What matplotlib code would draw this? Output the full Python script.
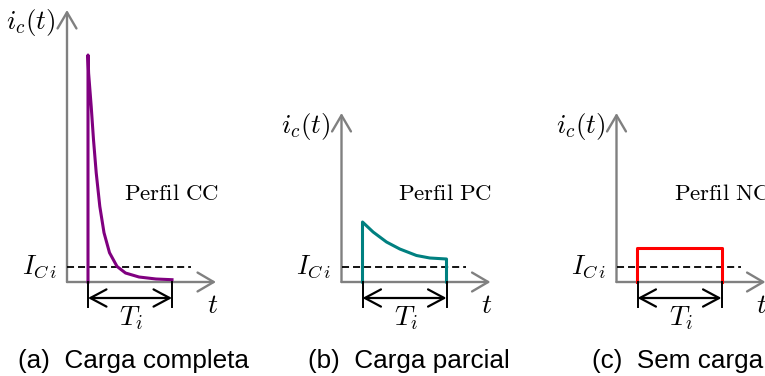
import matplotlib.pyplot as plt
from matplotlib.patches import FancyArrowPatch

plt.rcParams["mathtext.fontset"] = "cm"

# panel data, local units (t to the right, i upwards, origin at the axes corner)
cc_t = [21, 21, 21.6, 24.2, 26.5, 29.2, 32.8, 37, 42.5, 50, 58.5, 72, 89, 105]
cc_i = [0, 227, 209, 175.6, 142.3, 109.3, 75.6, 49.3, 29.3, 15.6, 9, 5, 3, 2.3]

pc_t = [21, 21, 31.6, 45, 58.3, 75, 88.3, 105, 105]
pc_i = [0, 60, 50, 40, 33, 26.5, 24, 23, 0]

nc_t = [20, 20, 105, 105]
nc_i = [0, 34, 34, 0]

i_ref = 15.5           # I_Ci level
t_on, t_off = 21, 105  # T_i span

profiles = ["CC", "PC", "NC"]
captions = ["(a)  Carga completa", "(b)  Carga parcial", "(c)  Sem carga"]
colors = ["#800080", "#008080", "#ff0000"]
curves = [(cc_t, cc_i), (pc_t, pc_i), (nc_t, nc_i)]

# layout
origins = [67, 341.5, 616.5]      # pixel x of each y-axis
axis_top = [272, 169, 169]
caption_left = [-49, -33.5, -24.5]
W, H = 765, 376

fig = plt.figure(figsize=(W / 100, H / 100), dpi=100)

gray = "#808080"
head = "->,head_length=0.58,head_width=0.34"

for k in range(3):
    x0 = origins[k] - 70
    ax = fig.add_axes([x0 / W, 0, 230 / W, 1])
    ax.set_xlim(-70, 160)
    ax.set_ylim(-94, 282)
    ax.axis("off")

    # axes arrows
    ax.add_patch(FancyArrowPatch((0, 0), (0, axis_top[k]), arrowstyle=head,
                                 mutation_scale=20, color=gray, lw=1.7,
                                 shrinkA=0, shrinkB=0, clip_on=False))
    ax.add_patch(FancyArrowPatch((0, 0), (149, 0), arrowstyle=head,
                                 mutation_scale=20, color=gray, lw=1.7,
                                 shrinkA=0, shrinkB=0, clip_on=False))

    # reference level
    ax.plot([0, 124], [i_ref, i_ref], color="black", lw=1.3,
            dashes=(3.9, 2.2), clip_on=False)

    # current profile
    t, i = curves[k]
    ax.plot(t, i, color=colors[k], lw=2.2, solid_joinstyle="round",
            clip_on=False)

    # T_i span
    for tx in (t_on, t_off):
        ax.plot([tx, tx], [0, -25], color="black", lw=1.4, clip_on=False)
    ax.add_patch(FancyArrowPatch((t_on, -16), (t_off, -16),
                                 arrowstyle="<->,head_length=0.58,head_width=0.31",
                                 mutation_scale=20, color="black", lw=1.6,
                                 shrinkA=0, shrinkB=0, clip_on=False))

    ax.text(64, -36, "$T_i$", fontsize=20, ha="center", va="center")
    ax.text(145.5, -23, "$t$", fontsize=20, ha="center", va="center")
    ax.text(-36, axis_top[k] - 13, "$i_c(t)$", fontsize=19.5,
            ha="center", va="center")
    ax.text(-10, i_ref, "$I_{C\\,i}$", fontsize=19, ha="right", va="center")
    ax.text(57, 88, "$\\mathrm{Perfil\\ " + profiles[k] + "}$", fontsize=16.5,
            ha="left", va="center")

    ax.text(caption_left[k], -79, captions[k], fontsize=18.8,
            family="Liberation Sans", ha="left", va="center")

plt.savefig("out.png", dpi=100)
